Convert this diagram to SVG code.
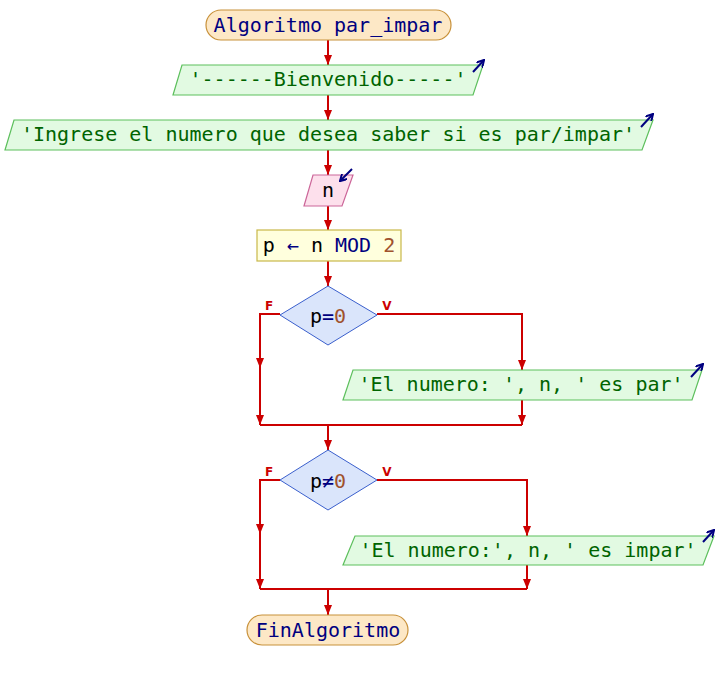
<svg xmlns="http://www.w3.org/2000/svg" width="718" height="680" viewBox="0 0 718 680">
<defs>
<style>
.t{font-family:"DejaVu Sans Mono","Liberation Mono",monospace;font-size:20px;text-anchor:middle}
.kw{fill:#000080}
.str{fill:#006400}
.num{fill:#a0522d}
.id{fill:#000000}
.term{fill:#fde8c6;stroke:#c8913a;stroke-width:1.2}
.out{fill:#e2fae2;stroke:#5cbf5c;stroke-width:1.2}
.in{fill:#fde0ec;stroke:#cc6699;stroke-width:1.2}
.proc{fill:#ffffdd;stroke:#c8b84a;stroke-width:1.2}
.dec{fill:#dae5fb;stroke:#3a5fcd;stroke-width:1}
.con{fill:none;stroke:#cc0000;stroke-width:2}
.lbl{font-family:"DejaVu Sans","Liberation Sans",sans-serif;font-size:12px;font-weight:bold;fill:#cc0000;text-anchor:middle}
.ico{fill:none;stroke:#000080;stroke-width:2}
</style>
<marker id="ah" viewBox="0 0 10 8" refX="10" refY="4" markerWidth="10" markerHeight="8" markerUnits="userSpaceOnUse" orient="auto">
<path d="M0,0 L10,4 L0,8 z" fill="#cc0000"/>
</marker>
<marker id="bh" viewBox="0 0 8 8" refX="7" refY="4" markerWidth="8" markerHeight="8" markerUnits="userSpaceOnUse" orient="auto">
<path d="M0,0 L7,4 L0,8" fill="none" stroke="#000080" stroke-width="2"/>
</marker>
</defs>
<rect width="718" height="680" fill="#ffffff"/>
<g id="connectors">
<path class="con" d="M328,40 V65" marker-end="url(#ah)"/>
<path class="con" d="M328,95 V120" marker-end="url(#ah)"/>
<path class="con" d="M328,150 V175" marker-end="url(#ah)"/>
<path class="con" d="M328,206 V230" marker-end="url(#ah)"/>
<path class="con" d="M328,261 V286" marker-end="url(#ah)"/>
<path class="con" d="M377,314 H522 V370" marker-end="url(#ah)"/>
<path class="con" d="M280,314 H260 V368" marker-end="url(#ah)"/>
<path class="con" d="M260,366 V425" marker-end="url(#ah)"/>
<path class="con" d="M522,400 V425" marker-end="url(#ah)"/>
<path class="con" d="M260,425 H522"/>
<path class="con" d="M328,425 V450" marker-end="url(#ah)"/>
<path class="con" d="M377,480 H527 V536" marker-end="url(#ah)"/>
<path class="con" d="M280,480 H260 V534" marker-end="url(#ah)"/>
<path class="con" d="M260,532 V589" marker-end="url(#ah)"/>
<path class="con" d="M527,565 V589" marker-end="url(#ah)"/>
<path class="con" d="M260,589 H527"/>
<path class="con" d="M328,589 V615" marker-end="url(#ah)"/>
<text class="lbl" x="269" y="310">F</text>
<text class="lbl" x="387" y="310">V</text>
<text class="lbl" x="269" y="476">F</text>
<text class="lbl" x="387" y="476">V</text>
</g>
<g id="start">
<rect class="term" x="206" y="10" width="245" height="30" rx="15" ry="15"/>
<text class="t kw" x="328" y="32">Algoritmo par_impar</text>
</g>
<g id="out1">
<polygon class="out" points="182,65 483,65 473,95 173,95"/>
<text class="t str" x="328" y="86">'------Bienvenido-----'</text>
<path class="ico" d="M473,72 L484,60" marker-end="url(#bh)"/>
</g>
<g id="out2">
<polygon class="out" points="14,120 653,120 642,150 5,150"/>
<text class="t str" x="328" y="141">'Ingrese el numero que desea saber si es par/impar'</text>
<path class="ico" d="M641,127 L653,114" marker-end="url(#bh)"/>
</g>
<g id="in1">
<polygon class="in" points="313,175 353,175 342,206 304,206"/>
<text class="t id" x="328" y="197">n</text>
<path class="ico" d="M352,169 L340,181" marker-end="url(#bh)"/>
</g>
<g id="assign">
<rect class="proc" x="257" y="230" width="144" height="31"/>
<text class="t" x="329" y="252"><tspan class="id">p</tspan><tspan class="kw"> ← </tspan><tspan class="id">n</tspan><tspan class="kw"> MOD </tspan><tspan class="num">2</tspan></text>
</g>
<g id="dec1">
<polygon class="dec" points="328,286 377,315 328,345 280,315"/>
<text class="t" x="328" y="323"><tspan class="id">p</tspan><tspan class="kw">=</tspan><tspan class="num">0</tspan></text>
</g>
<g id="out3">
<polygon class="out" points="353,370 702,370 692,400 343,400"/>
<text class="t str" x="521" y="391">'El numero: ', n, ' es par'</text>
<path class="ico" d="M691,377 L703,364" marker-end="url(#bh)"/>
</g>
<g id="dec2">
<polygon class="dec" points="328,450 377,480 328,510 280,480"/>
<text class="t" x="328" y="488"><tspan class="id">p</tspan><tspan class="kw">≠</tspan><tspan class="num">0</tspan></text>
</g>
<g id="out4">
<polygon class="out" points="355,536 714,536 703,565 343,565"/>
<text class="t str" x="528" y="557">'El numero:', n, ' es impar'</text>
<path class="ico" d="M703,542 L714,530" marker-end="url(#bh)"/>
</g>
<g id="end">
<rect class="term" x="247" y="615" width="161" height="30" rx="15" ry="15"/>
<text class="t kw" x="328" y="637">FinAlgoritmo</text>
</g>
</svg>
